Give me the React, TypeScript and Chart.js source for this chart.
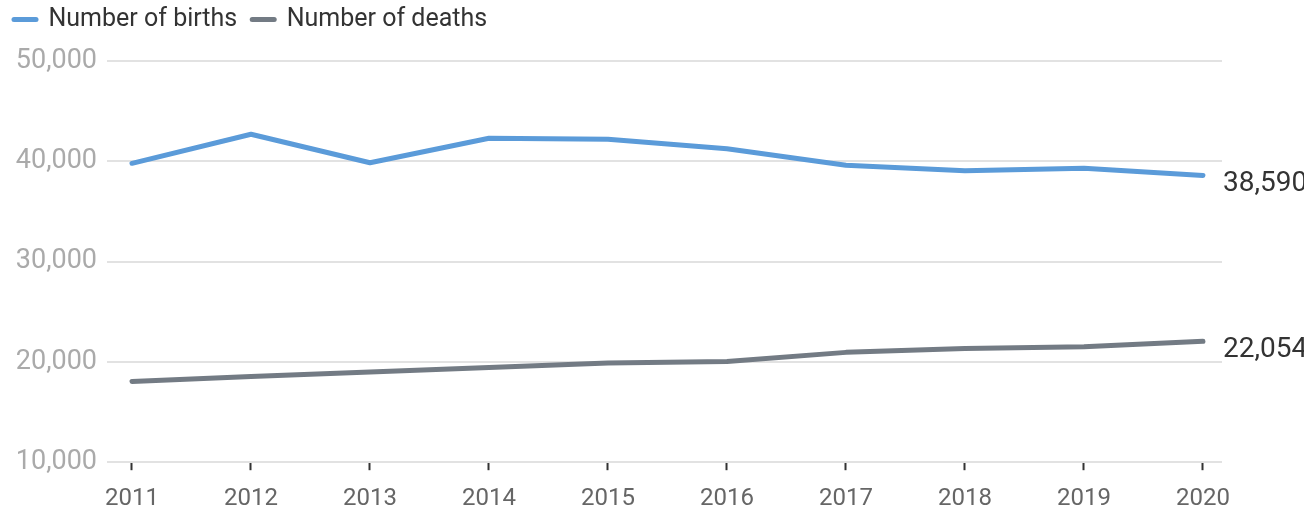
import React, { useEffect, useRef } from "react";
import { Chart, registerables } from "chart.js";

Chart.register(...registerables);

const years = [2011, 2012, 2013, 2014, 2015, 2016, 2017, 2018, 2019, 2020];
const births = [39800, 42700, 39850, 42300, 42200, 41250, 39600, 39050, 39300, 38590];
const deaths = [18050, 18550, 19000, 19450, 19900, 20050, 20950, 21330, 21500, 22054];
const seriesNames = ["Number of births", "Number of deaths"];
const yTicks = [10000, 20000, 30000, 40000, 50000];

const FONT = "Roboto, 'Noto Sans', sans-serif";

const endLabels = {
  id: "endLabels",
  afterDatasetsDraw(chart: any) {
    const ctx = chart.ctx;
    ctx.save();
    ctx.font = `28px ${FONT}`;
    ctx.fillStyle = "#333";
    ctx.textBaseline = "middle";
    ctx.textAlign = "left";
    chart.data.datasets.forEach((ds: any, i: number) => {
      const meta = chart.getDatasetMeta(i);
      const pt = meta.data[meta.data.length - 1];
      const v = ds.data[ds.data.length - 1].y;
      ctx.fillText(v.toLocaleString("en-US"), pt.x + 20, pt.y + 9);
    });
    ctx.restore();
  },
};

const legendSpace = {
  id: "legendSpace",
  beforeInit(chart: any) {
    const lg = chart.legend;
    if (!lg) return;
    const origFit = lg.fit;
    lg.fit = function () {
      origFit.call(this);
      this.height += 11;
    };
    const origDraw = lg.draw;
    lg.draw = function () {
      const ctx = this.ctx;
      ctx.save();
      ctx.translate(-1, -8);
      origDraw.call(this);
      ctx.restore();
    };
  },
};

export default function App() {
  const ref = useRef<HTMLCanvasElement>(null);
  useEffect(() => {
    document.body.style.margin = "0";
    const chart = new Chart(ref.current!, {
      type: "line",
      data: {
        datasets: [
          {
            label: seriesNames[0],
            data: years.map((x, i) => ({ x, y: births[i] })),
            borderColor: "#5b9bd9",
            backgroundColor: "#5b9bd9",
            borderWidth: 5,
            pointRadius: 0,
            borderCapStyle: "round",
            borderJoinStyle: "round",
          },
          {
            label: seriesNames[1],
            data: years.map((x, i) => ({ x, y: deaths[i] })),
            borderColor: "#737b84",
            backgroundColor: "#737b84",
            borderWidth: 5,
            pointRadius: 0,
            borderCapStyle: "round",
            borderJoinStyle: "round",
          },
        ],
      },
      options: {
        animation: false,
        responsive: false,
        layout: { padding: { left: 0, right: 82, top: 0, bottom: 2 } },
        plugins: {
          tooltip: { enabled: false },
          legend: {
            display: true,
            align: "start",
            labels: {
              usePointStyle: true,
              pointStyle: "line",
              pointStyleWidth: 22,
              font: { family: FONT, size: 25 },
              color: "#333",
              padding: 15,
              generateLabels(chart: any) {
                return chart.data.datasets.map((ds: any, i: number) => ({
                  text: ds.label,
                  strokeStyle: ds.borderColor,
                  fillStyle: ds.borderColor,
                  lineWidth: 5,
                  lineCap: "round",
                  pointStyle: "line",
                  datasetIndex: i,
                  fontColor: "#333",
                }));
              },
            },
          },
        },
        scales: {
          x: {
            type: "linear",
            min: 2010.79,
            max: 2020.16,
            afterBuildTicks(scale: any) {
              scale.ticks = years.map((v) => ({ value: v }));
            },
            ticks: {
              callback: (v: any) => String(v),
              color: "#666",
              font: { family: FONT, size: 24 },
              padding: 14,
              maxRotation: 0,
            },
            grid: {
              drawOnChartArea: false,
              drawTicks: true,
              tickLength: 8,
              tickColor: "#333",
              tickWidth: 2,
            },
            border: { display: false },
          },
          y: {
            min: 10000,
            max: 50000,
            afterBuildTicks(scale: any) {
              scale.ticks = yTicks.map((v) => ({ value: v }));
            },
            afterFit(scale: any) {
              scale.width = 107;
            },
            ticks: {
              callback: (v: any) => Number(v).toLocaleString("en-US"),
              color: "#aaa",
              font: { family: FONT, size: 27 },
              padding: 10,
            },
            grid: { color: "#e2e2e2", lineWidth: 2, drawTicks: false },
            border: { display: false },
          },
        },
      },
      plugins: [legendSpace, endLabels],
    } as any);
    return () => chart.destroy();
  }, []);
  return (
    <div style={{ width: 1304, height: 529 }}>
      <canvas ref={ref} width={1304} height={529} style={{ display: "block" }} />
    </div>
  );
}
